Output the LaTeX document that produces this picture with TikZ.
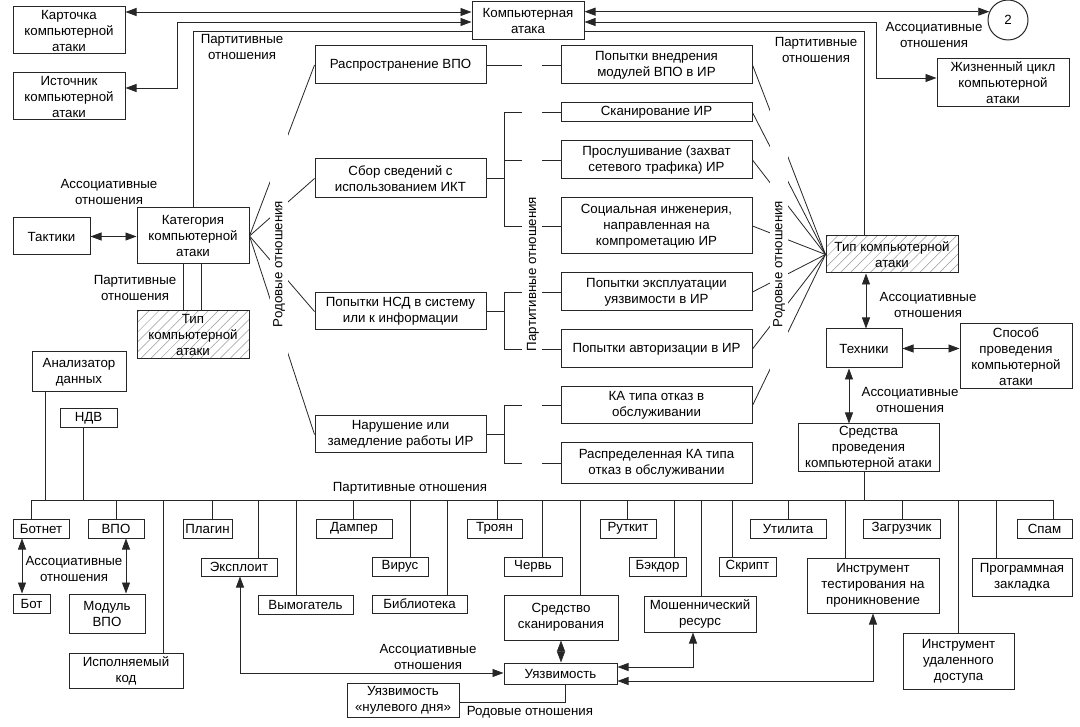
\documentclass[tikz,border=0pt]{standalone}
\usepackage{fontspec}
\setmainfont{Liberation Sans}
\usetikzlibrary{arrows.meta,patterns.meta}
\tikzset{
  txt/.style={font=\fontsize{13.3}{16}\selectfont},
  box/.style={txt,draw=black!85,line width=1pt,fill=white,align=center,inner sep=1pt},
  hatched/.style={pattern={Lines[angle=45,distance=7pt,line width=0.5pt]},pattern color=black!40},
  conn/.style={draw=black!85,line width=0.8pt},
  biarrow/.style={conn,{Triangle[length=11pt,width=8pt]}-{Triangle[length=11pt,width=8pt]}},
  lbl/.style={txt,align=center,inner sep=0pt}
}
\newcommand\mkbox[7][]{\node[box,#1,minimum width={(#5)-(#3)},minimum height={(#6)-(#4)}] (#2) at ({((#3)+(#5))/2},{((#4)+(#6))/2}) {#7};}
\begin{document}
\begin{tikzpicture}[x=1pt,y=-1pt]
\useasboundingbox (0,0) rectangle (1080,727);
\fill[white] (0,0) rectangle (1080,727);
% top
\mkbox{kart}{13}{7}{125}{54}{Карточка\\компьютерной\\атаки}
\mkbox{ist}{13}{73}{125}{120}{Источник\\компьютерной\\атаки}
\mkbox{ka}{472}{2}{584}{40}{Компьютерная\\атака}
\node[txt,draw=black!85,line width=1pt,circle,minimum size=40pt,inner sep=0pt] (circ) at (1008,20) {2};
\mkbox{zhc}{937}{59}{1069}{107}{Жизненный цикл\\компьютерной\\атаки}
% left
\mkbox{takt}{13}{218}{90}{255}{Тактики}
\mkbox{kat}{137}{208}{249}{264}{Категория\\компьютерной\\атаки}
\mkbox[hatched]{tipL}{137}{311}{249}{359}{Тип\\компьютерной\\атаки}
% categories
\mkbox{c1}{315}{46}{486}{84}{Распространение ВПО}
\mkbox{c2}{315}{159}{486}{198}{Сбор сведений с\\использованием ИКТ}
\mkbox{c3}{315}{293}{486}{330}{Попытки НСД в систему\\или к информации}
\mkbox{c4}{315}{416}{486}{453}{Нарушение или\\замедление работы ИР}
% items
\mkbox{i1}{561}{46}{752}{84}{Попытки внедрения\\модулей ВПО в ИР}
\mkbox{i2}{561}{103}{752}{122}{Сканирование ИР}
\mkbox{i3}{561}{141}{752}{179}{Прослушивание (захват\\сетевого трафика) ИР}
\mkbox{i4}{561}{198}{752}{254}{Социальная инженерия,\\направленная на\\компрометацию ИР}
\mkbox{i5}{561}{273}{752}{311}{Попытки эксплуатации\\уязвимости в ИР}
\mkbox{i6}{561}{330}{752}{368}{Попытки авторизации в ИР}
\mkbox{i7}{561}{387}{752}{424}{КА типа отказ в\\обслуживании}
\mkbox{i8}{561}{443}{752}{483}{Распределенная КА типа\\отказ в обслуживании}
% right
\mkbox[hatched]{tipR}{826}{236}{958}{273}{Тип компьютерной\\атаки}
\mkbox{tech}{826}{329}{902}{368}{Техники}
\mkbox{spos}{960}{324}{1072}{389}{Способ\\проведения\\компьютерной\\атаки}
\mkbox{sredst}{798}{424}{939}{472}{Средства\\проведения\\компьютерной атаки}
% bottom
\mkbox{anal}{32}{352}{126}{392}{Анализатор\\данных}
\mkbox{ndv}{60}{409}{117}{428}{НДВ}
\mkbox{botnet}{13}{519}{69}{538}{Ботнет}
\mkbox{vpo}{88}{519}{144}{538}{ВПО}
\mkbox{bot}{13}{594}{50}{613}{Бот}
\mkbox{modvpo}{69}{594}{145}{633}{Модуль\\ВПО}
\mkbox{ispk}{69}{653}{183}{688}{Исполняемый\\код}
\mkbox{plag}{183}{519}{232}{538}{Плагин}
\mkbox{expl}{201}{558}{277}{576}{Эксплоит}
\mkbox{vymog}{258}{595}{353}{614}{Вымогатель}
\mkbox{damp}{316}{519}{392}{538}{Дампер}
\mkbox{virus}{372}{557}{428}{576}{Вирус}
\mkbox{bibl}{372}{595}{467}{613}{Библиотека}
\mkbox{troyan}{467}{519}{522}{538}{Троян}
\mkbox{cherv}{504}{557}{562}{576}{Червь}
\mkbox{skan}{504}{595}{618}{640}{Средство\\сканирования}
\mkbox{rutkit}{600}{519}{656}{538}{Руткит}
\mkbox{bekdor}{629}{557}{686}{576}{Бэкдор}
\mkbox{mosh}{644}{596}{756}{632}{Мошеннический\\ресурс}
\mkbox{skript}{719}{557}{776}{576}{Скрипт}
\mkbox{util}{750}{519}{826}{538}{Утилита}
\mkbox{instt}{807}{558}{939}{613}{Инструмент\\тестирования на\\проникновение}
\mkbox{zagr}{863}{519}{940}{538}{Загрузчик}
\mkbox{instu}{903}{633}{1014}{689}{Инструмент\\удаленного\\доступа}
\mkbox{progz}{972}{558}{1072}{596}{Программная\\закладка}
\mkbox{spam}{1017}{519}{1072}{538}{Спам}
\mkbox{uyaz}{504}{663}{617}{684}{Уязвимость}
\mkbox{uyaz0}{347}{683}{459}{717}{Уязвимость\\«нулевого дня»}
% top connectors
\draw[biarrow] (kart.east |- 0,12) -- (ka.west |- 0,12);
\draw[biarrow] (ist.east |- 0,88) -| (177,22) -- (ka.west |- 0,22);
\draw[conn] (kat.north -| 193,0) |- (ka.west |- 0,31);
\draw[biarrow] (ka.east |- circ.156) -- (circ.156);
\draw[biarrow] (ka.east |- 0,22) -| (876,78) -- (zhc.west |- 0,78);
\draw[conn] (ka.east |- 0,31) -| (tipR.north -| 864,0);
% left
\draw[biarrow] (takt.east) -- (takt.east -| kat.west);
\draw[conn] (kat.south -| 183,0) -- (tipL.north -| 183,0);
\draw[conn] (kat.south -| 201,0) -- (tipL.north -| 201,0);
\foreach \c in {c1,c2,c3,c4} \draw[conn] (kat.east) -- (\c.west);
% middle brackets
\draw[conn] (c1.east) -- (i1.west);
\draw[conn] (c2.east) -- (c2.east -| 504,0);
\draw[conn] (i2.west) -| (i4.west -| 504,0) -- (i4.west);
\draw[conn] (i3.west) -- (i3.west -| 504,0);
\draw[conn] (c3.east) -- (c3.east -| 504,0);
\draw[conn] (i5.west) -| (i6.west -| 504,0) -- (i6.west);
\draw[conn] (c4.east) -- (c4.east -| 504,0);
\draw[conn] (i7.west) -| (i8.west -| 504,0) -- (i8.west);
% right fan
\foreach \i in {i1,i2,i3,i4,i5,i6,i7} \draw[conn] (\i.east) -- (tipR.west);
\draw[biarrow] (tipR.south -| 866,0) -- (tech.north -| 866,0);
\draw[biarrow] (tech.east) -- (tech.east -| spos.west);
\draw[biarrow] (tech.south -| 849,0) -- (sredst.north -| 849,0);
% bus
\coordinate (busL) at (31,500);
\coordinate (busR) at (1053,500);
\draw[conn] (botnet.north -| busL) -- (busL) -- (busR) -- (spam.north -| busR);
\draw[conn] (sredst.south -| 864,0) -- (864,0 |- busL);
\foreach \n/\x in {anal/45,ndv/83} \draw[conn] (\n.south -| \x,0) -- (\x,0 |- busL);
\foreach \n/\x in {vpo/116,ispk/163,plag/212,expl/258,vymog/296,damp/353,virus/410,bibl/447,troyan/497,cherv/542,skan/580,rutkit/627,bekdor/674,mosh/701,skript/732,util/788,instt/845,zagr/902,instu/958,progz/996}
  \draw[conn] (\x,0 |- busL) -- (\n.north -| \x,0);
% bottom arrows
\draw[biarrow] (botnet.south -| 22,0) -- (bot.north -| 22,0);
\draw[biarrow] (vpo.south -| 126,0) -- (modvpo.north -| 126,0);
\draw[biarrow] (expl.south -| 240,0) |- (uyaz.west |- 0,673);
\draw[biarrow] (skan.south -| 561,0) -- (uyaz.north -| 561,0);
\draw[biarrow] (mosh.south -| 693,0) |- (uyaz.east |- 0,667);
\draw[biarrow] (instt.south -| 873,0) |- (uyaz.east |- 0,681);
\draw[conn] (uyaz.south -| 565,0) |- (uyaz0.east |- 0,702);
% white bands for labels
\fill[white] (270,128) rectangle (288,370);
\fill[white] (522,55) rectangle (542,472);
\fill[white] (770,105) rectangle (788,378);
% labels
\node[lbl,rotate=90] (rodL) at (279,264) {Родовые отношения};
\node[lbl,rotate=90] (partM) at (533,274) {Партитивные отношения};
\node[lbl,rotate=90] (rodR) at (779,264) {Родовые отношения};
\node[lbl] (l1) at (242,47) {Партитивные\\отношения};
\node[lbl] (l2) at (816,50) {Партитивные\\отношения};
\node[lbl] (l3) at (934,35) {Ассоциативные\\отношения};
\node[lbl] (l4) at (109,192) {Ассоциативные\\отношения};
\node[lbl] (l5) at (135,288) {Партитивные\\отношения};
\node[lbl] (l6) at (928,305) {Ассоциативные\\отношения};
\node[lbl] (l7) at (910,400) {Ассоциативные\\отношения};
\node[lbl] (l8) at (410,488) {Партитивные отношения};
\node[lbl] (l9) at (74,569) {Ассоциативные\\отношения};
\node[lbl] (l10) at (428,657) {Ассоциативные\\отношения};
\node[lbl] (l11) at (530,712) {Родовые отношения};
\end{tikzpicture}
\end{document}
